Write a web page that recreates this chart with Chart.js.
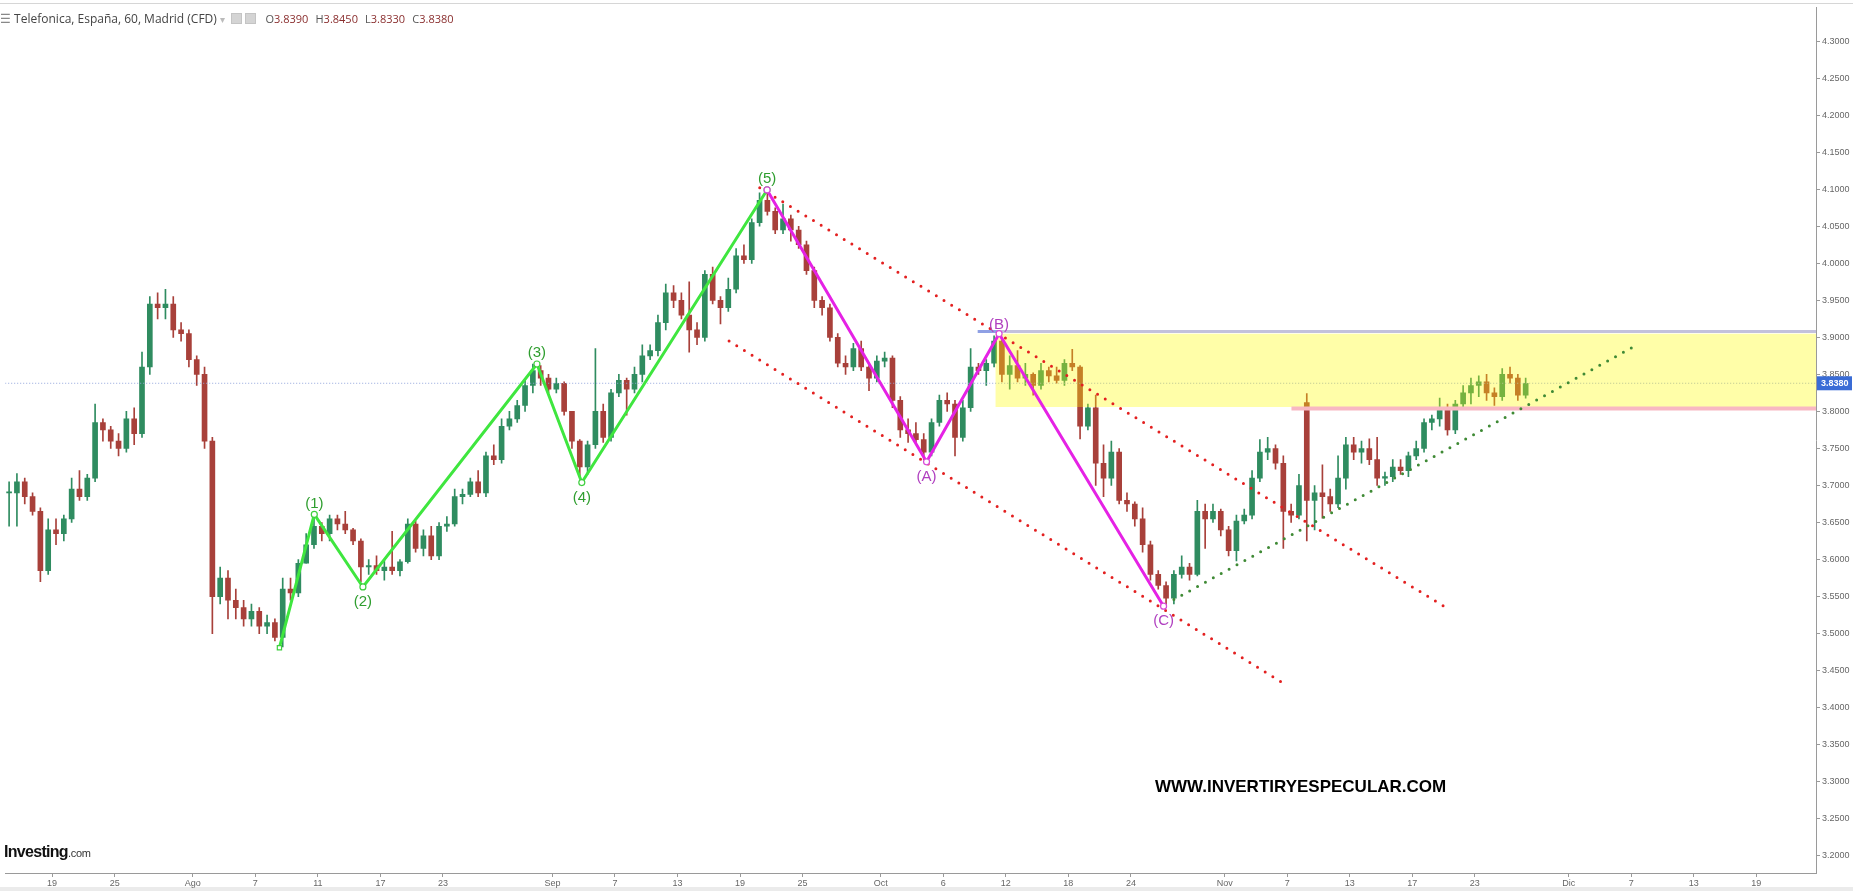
<!DOCTYPE html>
<html>
<head>
<meta charset="utf-8">
<script src="https://cdn.jsdelivr.net/npm/chart.js@4.4.1/dist/chart.umd.min.js"></script>
<style>
    html, body { margin: 0; padding: 0; overflow: hidden; background: #fff; }
    #wrap { position: relative; width: 1853px; height: 891px; background: linear-gradient(#fff 0, #fff 887px, #ebebeb 887px); }
    #grafica { position: absolute; left: 0; top: 0; }
    #topline { position: absolute; left: 0; top: 3px; width: 1853px; height: 1px; background: #d6d6d6; }
    #header { position: absolute; left: 0; top: 10px; font: 12px "Open Sans", "Noto Sans", Arial, sans-serif; color: #444; white-space: nowrap; }
    #header .ico { display: inline-block; width: 9px; height: 9px; background: #d4d4d4; border: 1px solid #c4c4c4; margin-right: 3px; vertical-align: -1px; }
    #header .k { color: #555; font-size: 11px; }
    #header .v { color: #8a2e2e; margin-right: 4px; font-size: 11px; }
    #logo { position: absolute; left: 4px; top: 843px; font: bold 16px "Liberation Sans", Arial, sans-serif; color: #111; letter-spacing: -0.7px; }
    #logo small { font-weight: normal; font-size: 11px; color: #333; letter-spacing: -0.3px; }
    #marca { position: absolute; left: 1155px; top: 777px; font: bold 17px "Liberation Sans", Arial, sans-serif; color: #000; white-space: nowrap; }
</style>
</head>
<body>
<div id="wrap">
    <canvas id="grafica" width="1853" height="891"></canvas>
    <div id="topline"></div>
    <div id="header"><span style="color:#888">&#9776;</span> Telefonica, España, 60, Madrid (CFD) <span style="color:#bbb;font-size:10px">&#9662;</span>&nbsp; <span class="ico"></span><span class="ico"></span>&nbsp;&nbsp;<span class="k">O</span><span class="v">3.8390</span> <span class="k">H</span><span class="v">3.8450</span> <span class="k">L</span><span class="v">3.8330</span> <span class="k">C</span><span class="v">3.8380</span></div>
    <div id="logo">Investing<small>.com</small></div>
    <div id="marca">WWW.INVERTIRYESPECULAR.COM</div>
</div>
<script>
// x axis is counted in trading days (0 = 19 jul), two candles per day
const slotStart = -2.75;
const slotStep = 0.5;

const velaOpen = [3.69,3.69,3.705,3.685,3.665,3.585,3.64,3.635,3.655,3.695,3.685,3.71,3.785,3.775,3.76,3.75,3.79,3.77,3.86,3.945,
    3.94,3.945,3.91,3.905,3.87,3.85,3.76,3.55,3.575,3.545,3.535,3.52,3.53,3.51,3.515,3.495,3.56,3.555,3.595,3.62,
    3.645,3.635,3.655,3.648,3.64,3.625,3.59,3.592,3.585,3.59,3.585,3.597,3.648,3.615,3.632,3.605,3.645,3.648,3.685,3.688,
    3.705,3.69,3.74,3.735,3.78,3.79,3.808,3.835,3.855,3.845,3.83,3.838,3.80,3.76,3.725,3.755,3.80,3.765,3.825,3.842,
    3.83,3.85,3.875,3.882,3.92,3.96,3.95,3.93,3.91,3.90,3.985,3.95,3.94,3.965,4.01,4.005,4.055,4.085,4.07,4.045,
    4.06,4.045,4.025,3.99,3.95,3.94,3.90,3.865,3.86,3.885,3.86,3.845,3.868,3.872,3.815,3.775,3.77,3.762,3.745,3.785,
    3.815,3.81,3.765,3.805,3.86,3.855,3.865,3.895,3.85,3.862,3.845,3.85,3.835,3.855,3.848,3.842,3.865,3.86,3.78,3.805,
    3.73,3.71,3.745,3.68,3.675,3.655,3.62,3.58,3.565,3.548,3.58,3.59,3.58,3.665,3.655,3.665,3.64,3.612,3.652,3.66,
    3.71,3.745,3.75,3.73,3.665,3.66,3.812,3.68,3.69,3.685,3.675,3.71,3.755,3.745,3.75,3.735,3.71,3.712,3.725,3.72,
    3.74,3.75,3.785,3.79,3.805,3.775,3.81,3.825,3.835,3.84,3.825,3.82,3.85,3.845,3.822];
const velaHigh = [3.705,3.716,3.71,3.69,3.67,3.655,3.655,3.66,3.71,3.72,3.715,3.81,3.79,3.78,3.77,3.80,3.805,3.88,3.955,3.96,
    3.965,3.955,3.92,3.91,3.875,3.86,3.765,3.59,3.585,3.56,3.545,3.54,3.535,3.525,3.52,3.575,3.575,3.60,3.635,3.662,
    3.65,3.66,3.66,3.665,3.642,3.628,3.60,3.605,3.60,3.638,3.60,3.655,3.652,3.64,3.645,3.65,3.658,3.695,3.695,3.71,
    3.72,3.745,3.755,3.79,3.80,3.815,3.842,3.864,3.862,3.85,3.845,3.84,3.80,3.762,3.76,3.885,3.81,3.83,3.85,3.845,
    3.86,3.89,3.89,3.93,3.972,3.97,3.96,3.975,3.92,3.99,3.995,3.955,3.98,4.02,4.025,4.06,4.095,4.10,4.075,4.08,
    4.065,4.05,4.03,3.995,3.955,3.945,3.905,3.875,3.892,3.895,3.862,3.875,3.88,3.875,3.82,3.79,3.785,3.77,3.79,3.822,
    3.825,3.815,3.815,3.885,3.865,3.87,3.902,3.90,3.875,3.882,3.865,3.852,3.865,3.86,3.86,3.87,3.884,3.862,3.81,3.822,
    3.755,3.76,3.75,3.69,3.678,3.67,3.625,3.585,3.57,3.585,3.605,3.595,3.68,3.675,3.675,3.668,3.645,3.66,3.668,3.72,
    3.762,3.765,3.755,3.74,3.675,3.715,3.824,3.70,3.728,3.695,3.74,3.765,3.765,3.76,3.763,3.765,3.718,3.735,3.735,3.745,
    3.76,3.79,3.795,3.818,3.81,3.815,3.835,3.845,3.848,3.85,3.832,3.858,3.86,3.85,3.845];
const velaLow = [3.645,3.645,3.675,3.66,3.57,3.58,3.62,3.625,3.65,3.68,3.68,3.705,3.76,3.75,3.74,3.745,3.755,3.765,3.85,3.925,
    3.925,3.90,3.895,3.86,3.835,3.75,3.50,3.54,3.52,3.52,3.51,3.51,3.50,3.50,3.49,3.482,3.545,3.55,3.595,3.615,
    3.625,3.625,3.64,3.635,3.62,3.57,3.58,3.58,3.572,3.58,3.578,3.595,3.61,3.605,3.60,3.60,3.638,3.645,3.675,3.685,
    3.685,3.685,3.728,3.73,3.775,3.785,3.80,3.825,3.835,3.825,3.825,3.795,3.75,3.71,3.715,3.75,3.758,3.76,3.82,3.795,
    3.825,3.84,3.87,3.875,3.91,3.94,3.925,3.88,3.89,3.895,3.945,3.918,3.935,3.96,4.0,4.0,4.05,4.065,4.04,4.04,
    4.03,4.02,3.985,3.94,3.93,3.895,3.86,3.85,3.855,3.855,3.828,3.84,3.86,3.805,3.765,3.758,3.755,3.735,3.74,3.78,
    3.80,3.74,3.76,3.80,3.85,3.835,3.86,3.84,3.83,3.84,3.835,3.822,3.83,3.84,3.838,3.835,3.855,3.763,3.775,3.70,
    3.685,3.70,3.675,3.665,3.645,3.61,3.572,3.56,3.535,3.54,3.575,3.572,3.578,3.615,3.65,3.632,3.605,3.598,3.648,3.655,
    3.705,3.735,3.722,3.615,3.65,3.655,3.625,3.64,3.656,3.665,3.67,3.695,3.735,3.73,3.728,3.70,3.70,3.705,3.715,3.712,
    3.735,3.745,3.775,3.78,3.768,3.77,3.805,3.81,3.82,3.815,3.808,3.815,3.838,3.815,3.818];
const velaClose = [3.69,3.705,3.685,3.665,3.585,3.64,3.635,3.655,3.695,3.685,3.71,3.785,3.775,3.76,3.75,3.79,3.77,3.86,3.945,3.94,
    3.945,3.91,3.905,3.87,3.85,3.76,3.55,3.575,3.545,3.535,3.52,3.53,3.51,3.515,3.495,3.56,3.555,3.595,3.62,3.645,
    3.635,3.655,3.648,3.64,3.625,3.59,3.592,3.585,3.59,3.585,3.597,3.648,3.615,3.632,3.605,3.645,3.648,3.685,3.688,3.705,
    3.69,3.74,3.735,3.78,3.79,3.808,3.835,3.855,3.845,3.83,3.838,3.80,3.76,3.725,3.755,3.80,3.765,3.825,3.842,3.83,
    3.85,3.875,3.882,3.92,3.96,3.95,3.93,3.91,3.90,3.985,3.95,3.94,3.965,4.01,4.005,4.055,4.085,4.07,4.045,4.06,
    4.045,4.025,3.99,3.95,3.94,3.90,3.865,3.86,3.885,3.86,3.845,3.868,3.872,3.815,3.775,3.77,3.762,3.745,3.785,3.815,
    3.81,3.765,3.805,3.86,3.855,3.865,3.895,3.85,3.862,3.845,3.85,3.835,3.855,3.848,3.842,3.865,3.86,3.78,3.805,3.73,
    3.71,3.745,3.68,3.675,3.655,3.62,3.58,3.565,3.548,3.58,3.59,3.58,3.665,3.655,3.665,3.64,3.612,3.652,3.66,3.71,
    3.745,3.75,3.73,3.665,3.66,3.70,3.68,3.69,3.685,3.675,3.71,3.755,3.745,3.75,3.735,3.71,3.712,3.725,3.72,3.74,
    3.75,3.785,3.79,3.805,3.775,3.81,3.825,3.835,3.84,3.825,3.82,3.85,3.845,3.822,3.838];

// fechas del eje x (posicion en dias de cotizacion)
const tickDias = [0, 4, 9, 13, 17, 21, 25, 32, 36, 40, 44, 48, 53, 57, 61, 65, 69, 75, 79, 83, 87, 91, 97, 101, 105, 109];
const tickFechas = ['19', '25', 'Ago', '7', '11', '17', '23', 'Sep', '7', '13', '19', '25', 'Oct', '6', '12', '18', '24', 'Nov', '7', '13', '17', '23', 'Dic', '7', '13', '19'];
const precioTicks = [3.20, 3.25, 3.30, 3.35, 3.40, 3.45, 3.50, 3.55, 3.60, 3.65, 3.70, 3.75, 3.80, 3.85, 3.90, 3.95, 4.00, 4.05, 4.10, 4.15, 4.20, 4.25, 4.30];

// ondas de Elliott
const ondaVerdeX = [14.54, 16.77, 19.88, 31.01, 33.88, 45.73];
const ondaVerdeY = [3.481, 3.661, 3.563, 3.864, 3.704, 4.099];
const ondaVerdeTxt = ['', '(1)', '(2)', '(3)', '(4)', '(5)'];
const ondaMagX = [45.73, 55.93, 60.57, 71.09];
const ondaMagY = [4.099, 3.732, 3.905, 3.537];
const ondaMagTxt = ['', '(A)', '(B)', '(C)'];

// canal bajista (rojo) y soporte (verde)
const canalSupX = [45.26, 89.41];
const canalSupY = [4.102, 3.532];
const canalInfX = [43.30, 79.02];
const canalInfY = [3.895, 3.4296];
const soporteX = [71.75, 101.21];
const soporteY = [3.546, 3.888];

// zona amarilla
const zonaInicio = 60.33;
const zonaTecho = 3.905;
const zonaSuelo = 3.806;
const lineaTecho = 3.908;
const lineaTechoInicio = 59.2;
const lineaSuelo = 3.804;
const lineaSueloInicio = 79.27;
const ultimoPrecio = 3.838;

const xMin = -3;
const xMax = 112.82;
const yMin = 3.1768;
const yMax = 4.3455;

const verdeVela = '#2f8c60';
const rojaVela = '#a8403a';

const cuerpos = velaOpen.map((o, i) => ({ x: slotStart + i * slotStep, y: [o, velaClose[i]] }));
const mechas = velaOpen.map((o, i) => ({ x: slotStart + i * slotStep, y: [velaLow[i], velaHigh[i]] }));
const coloresVela = velaOpen.map((o, i) => velaClose[i] >= o ? verdeVela : rojaVela);

function puntos(xs, ys) {
    return xs.map((v, i) => ({ x: v, y: ys[i] }));
}

function tramo(x0, x1, valor) {
    return [{ x: x0, y: valor }, { x: x1, y: valor }];
}

const punteado = {
    type: 'line', pointRadius: 0, borderWidth: 3, borderDash: [0, 9],
    borderCapStyle: 'round', fill: false, order: 1
};

// textos de las ondas y etiqueta del ultimo precio
const textos = {
    id: 'textos',
    afterDatasetsDraw(chart) {
        const { ctx, scales: { x, y } } = chart;
        ctx.save();
        ctx.font = '15px "Liberation Sans", Arial, sans-serif';
        ctx.textAlign = 'center';
        ctx.textBaseline = 'middle';
        ondaVerdeTxt.forEach((t, i) => {
            if (!t) return;
            const arriba = i % 2 === 1;
            ctx.fillStyle = '#2f9e2f';
            ctx.fillText(t, x.getPixelForValue(ondaVerdeX[i]), y.getPixelForValue(ondaVerdeY[i]) + (arriba ? -11 : 15));
        });
        ondaMagTxt.forEach((t, i) => {
            if (!t) return;
            const arriba = i === 2;
            ctx.fillStyle = '#b040c0';
            ctx.fillText(t, x.getPixelForValue(ondaMagX[i]), y.getPixelForValue(ondaMagY[i]) + (arriba ? -9 : 15));
        });
        const py = y.getPixelForValue(ultimoPrecio);
        ctx.fillStyle = '#3a6cd6';
        ctx.fillRect(x.right + 1, py - 7, 35, 14);
        ctx.fillStyle = '#fff';
        ctx.font = 'bold 9px "Liberation Sans", Arial, sans-serif';
        ctx.textAlign = 'left';
        ctx.fillText(ultimoPrecio.toFixed(4), x.right + 5, py);
        ctx.restore();
    }
};

const ctx = document.getElementById('grafica').getContext('2d');
const grafica = new Chart(ctx, {
    type: 'bar',
    data: {
        datasets: [
            { data: mechas, backgroundColor: coloresVela, barThickness: 1, grouped: false, order: 11 },
            { data: cuerpos, backgroundColor: coloresVela, barThickness: 5, minBarLength: 1, grouped: false, order: 10 },
            { type: 'line', data: tramo(xMin, xMax, ultimoPrecio), borderColor: '#93a6dc', borderWidth: 1, borderDash: [1, 2], pointRadius: 0, order: 6 },
            { type: 'line', data: tramo(zonaInicio, xMax, zonaTecho), borderWidth: 0, pointRadius: 0, fill: { value: zonaSuelo }, backgroundColor: 'rgba(255,253,0,0.34)', order: 5 },
            { type: 'line', data: tramo(lineaTechoInicio, zonaInicio + 0.2, lineaTecho), borderColor: '#8fa0e4', borderWidth: 3, pointRadius: 0, order: 4 },
            { type: 'line', data: tramo(zonaInicio + 0.2, xMax, lineaTecho), borderColor: '#c3c1dc', borderWidth: 3, pointRadius: 0, order: 4 },
            { type: 'line', data: tramo(lineaSueloInicio, xMax, lineaSuelo), borderColor: '#f8b7c2', borderWidth: 4, pointRadius: 0, order: 4 },
            Object.assign({ data: puntos(canalSupX, canalSupY), borderColor: '#e32020' }, punteado),
            Object.assign({ data: puntos(canalInfX, canalInfY), borderColor: '#e32020' }, punteado),
            Object.assign({ data: puntos(soporteX, soporteY), borderColor: '#3f8a35' }, punteado),
            {
                type: 'line', data: puntos(ondaVerdeX, ondaVerdeY), borderColor: '#3fe63f', borderWidth: 3,
                pointRadius: 3, pointBorderWidth: 1.2, pointBackgroundColor: '#fff', pointBorderColor: '#3fcf3f',
                pointStyle: ['rect', 'circle', 'circle', 'circle', 'circle', 'circle'], order: 0
            },
            {
                type: 'line', data: puntos(ondaMagX, ondaMagY), borderColor: '#e522e5', borderWidth: 3,
                pointRadius: 3, pointBorderWidth: 1.2, pointBackgroundColor: '#fff', pointBorderColor: '#d84ad8', order: -1
            }
        ]
    },
    options: {
        responsive: false,
        animation: false,
        devicePixelRatio: 1,
        layout: { padding: { top: 4, left: 0, right: 0, bottom: 0 } },
        plugins: { legend: { display: false }, tooltip: { enabled: false } },
        scales: {
            x: {
                type: 'linear', min: xMin, max: xMax, offset: false,
                grid: { offset: false, drawOnChartArea: false, drawTicks: true, tickLength: 4, color: '#9a9a9a' },
                border: { display: true, color: '#9a9a9a' },
                ticks: {
                    autoSkip: false, maxRotation: 0, padding: 1, color: '#666',
                    font: { size: 9, family: '"Liberation Sans", Arial, sans-serif' },
                    callback: (v, i) => tickFechas[i]
                },
                afterBuildTicks: s => { s.ticks = tickDias.map(v => ({ value: v })); },
                afterFit: s => { s.height = 18; }
            },
            y: {
                position: 'right', min: yMin, max: yMax,
                grid: { drawOnChartArea: false, drawTicks: true, tickLength: 4, color: '#9a9a9a' },
                border: { display: true, color: '#9a9a9a' },
                ticks: {
                    padding: 2, color: '#666',
                    font: { size: 9, family: '"Liberation Sans", Arial, sans-serif' },
                    callback: v => v.toFixed(4)
                },
                afterBuildTicks: s => { s.ticks = precioTicks.map(v => ({ value: v })); },
                afterFit: s => { s.width = 37; }
            }
        }
    },
    plugins: [textos]
});
</script>
</body>
</html>
